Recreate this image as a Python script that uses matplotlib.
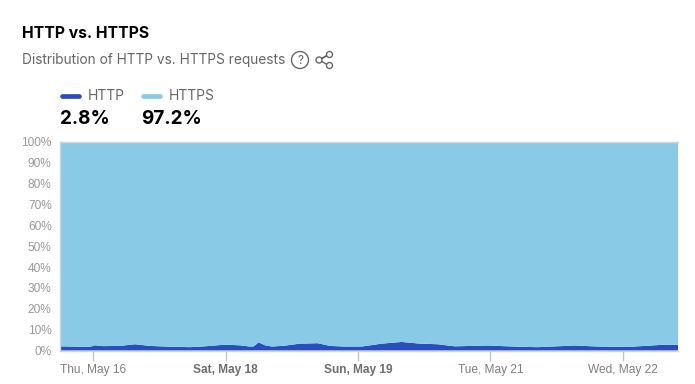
import matplotlib
matplotlib.use('Agg')
import matplotlib.pyplot as plt
from matplotlib.patches import Circle

DPI = 100
W, H = 695, 384

# hours since start of the window, HTTP share in percent
hours = [0, 5.4, 8.2, 9.5, 11.7, 16.3, 20.4, 24.5, 29.9, 35.3, 39.4, 44.8, 48.9, 51.6, 52.7,
         54, 55.7, 57.6, 61, 65.2, 70.1, 73.4, 77.4, 82, 87.5, 92.9, 97.8, 102.7, 107.3,
         116.3, 124.5, 129.9, 139.9, 146.2, 154.3, 164.4, 168]
http_share = [2.0, 1.8, 1.8, 2.5, 2.1, 2.2, 3.0, 2.2, 1.8, 1.6, 2.0, 2.8, 2.5, 1.9, 2.0,
              3.9, 2.5, 1.9, 2.3, 3.3, 3.5, 2.2, 1.9, 1.9, 3.3, 4.1, 3.3, 3.0, 2.0,
              2.4, 1.8, 1.6, 2.4, 1.9, 1.7, 2.8, 2.7]
tick_hours = [9, 45, 81, 117, 153]
tick_labels = ['Thu, May 16', 'Sat, May 18', 'Sun, May 19', 'Tue, May 21', 'Wed, May 22']
bold_ticks = ['Sat, May 18', 'Sun, May 19']
y_ticks = [0, 10, 20, 30, 40, 50, 60, 70, 80, 90, 100]
series_names = ['HTTP', 'HTTPS']
series_totals = ['2.8%', '97.2%']

COL_HTTP = '#2b4cbd'
COL_HTTPS = '#89cbe6'
TITLE_FONT = ['Inter', 'DejaVu Sans']
AXIS_FONT = ['Liberation Sans', 'DejaVu Sans']

https_share = [100 - v for v in http_share]

fig = plt.figure(figsize=(W / DPI, H / DPI), dpi=DPI)
ax = fig.add_axes([60 / W, 1 - 350.5 / H, 618 / W, 208.5 / H])
ax.stackplot(hours, http_share, https_share, colors=[COL_HTTP, COL_HTTPS], linewidth=0)
ax.set_xlim(0, 168)
ax.set_ylim(0, 100)
ax.set_yticks(y_ticks)
ax.set_yticklabels([f'{v}%' for v in y_ticks], fontsize=8.6, color='#999999', family=AXIS_FONT)
ax.set_xticks(tick_hours)
ax.set_xticklabels(tick_labels, fontsize=8.6, color='#7f7f7f', family=AXIS_FONT)
for lab in ax.get_xticklabels():
    if lab.get_text() in bold_ticks:
        lab.set_fontweight('bold')
        lab.set_color('#6e6e6e')
ax.tick_params(axis='x', length=7, width=1, color='#c4c4c4', pad=3)
ax.tick_params(axis='y', length=0, pad=6)
for side in ['top', 'right', 'left', 'bottom']:
    ax.spines[side].set_color('#cfd6da')
    ax.spines[side].set_linewidth(1)
ax.spines['right'].set_visible(False)

# header drawn in pixel coordinates
top = fig.add_axes([0, 0, 1, 1], facecolor='none')
top.set_xlim(0, W)
top.set_ylim(H, 0)
top.axis('off')
top.text(22, 33.5, 'HTTP vs. HTTPS', fontsize=11.3, fontweight='bold', color='#000000',
         family=TITLE_FONT, va='center')
top.text(22, 60, 'Distribution of HTTP vs. HTTPS requests', fontsize=9.85, color='#666666',
         family=TITLE_FONT, va='center')

# help icon
top.add_patch(Circle((300, 60), 8.5, fill=False, ec='#666666', lw=1))
top.text(300, 60.5, '?', fontsize=8.5, color='#666666', family=TITLE_FONT, ha='center', va='center')

# share icon
top.plot([319, 329, 319, 329], [60, 54.5, 60, 65.5], color='#666666', lw=1)
for cx, cy, r in [(319, 60, 3), (329.5, 54.5, 3), (329.5, 65.5, 3)]:
    top.add_patch(Circle((cx, cy), r, fc='white', ec='#666666', lw=1, zorder=3))

# legend
for x0, name, total, col in zip([60, 141], series_names, series_totals, [COL_HTTP, COL_HTTPS]):
    top.plot([x0 + 2, x0 + 19], [96, 96], color=col, lw=3.4, solid_capstyle='round')
    top.text(x0 + 28, 96, name, fontsize=10, color='#666666', family=TITLE_FONT, va='center')
    top.text(x0, 119, total, fontsize=13.6, fontweight='bold', color='#000000',
             family=TITLE_FONT, va='center')

fig.savefig('out.png', dpi=DPI)
